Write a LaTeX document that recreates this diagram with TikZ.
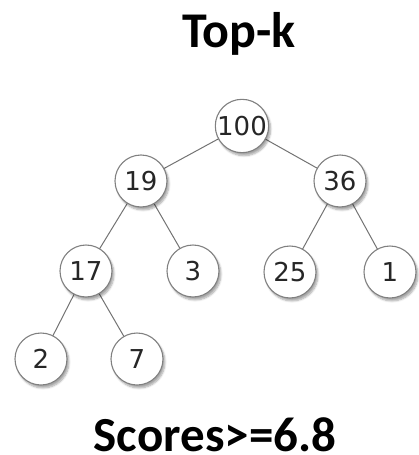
\documentclass[tikz,border=0pt]{standalone}
\usepackage{fontspec}
\setmainfont{Carlito}
\newfontfamily\numfont{DejaVu Sans}
\usetikzlibrary{shadows.blur}
\begin{document}
\begin{tikzpicture}[x=1pt,y=-1pt,
  treenode/.style={circle,draw=black!50,line width=1.1pt,fill=white,minimum size=52pt,inner sep=0pt,
    font=\numfont\fontsize{26}{26}\selectfont,text=black!85,
    blur shadow={shadow xshift=2pt,shadow yshift=-3pt,shadow blur steps=6,shadow opacity=35}},
  edge/.style={draw=black!55,line width=1pt},
  title/.style={font=\bfseries\fontsize{50}{50}\selectfont,anchor=base,inner sep=0pt}]
\useasboundingbox (0,0) rectangle (418,455);
\coordinate (n100) at (242,126);
\coordinate (n19) at (141,181);
\coordinate (n36) at (340,181);
\coordinate (n17) at (86,271);
\coordinate (n3) at (193,271);
\coordinate (n25) at (290,272);
\coordinate (n1) at (390,272);
\coordinate (n2) at (41,359);
\coordinate (n7) at (137,359);
\draw[edge] (n100) -- (n19);
\draw[edge] (n100) -- (n36);
\draw[edge] (n19) -- (n17);
\draw[edge] (n19) -- (n3);
\draw[edge] (n36) -- (n25);
\draw[edge] (n36) -- (n1);
\draw[edge] (n17) -- (n2);
\draw[edge] (n17) -- (n7);
\node[treenode] (a) at (n100) {100};
\node[treenode] (b) at (n19) {19};
\node[treenode] (c) at (n36) {36};
\node[treenode] (d) at (n17) {17};
\node[treenode] (e) at (n3) {3};
\node[treenode] (f) at (n25) {25};
\node[treenode] (g) at (n1) {1};
\node[treenode] (h) at (n2) {2};
\node[treenode] (i) at (n7) {7};
\node[title] (t) at (239,47) {Top-k};
\node[title,font=\bfseries\fontsize{49}{49}\selectfont] (s) at (215,451) {Scores>=6.8};
\end{tikzpicture}
\end{document}
